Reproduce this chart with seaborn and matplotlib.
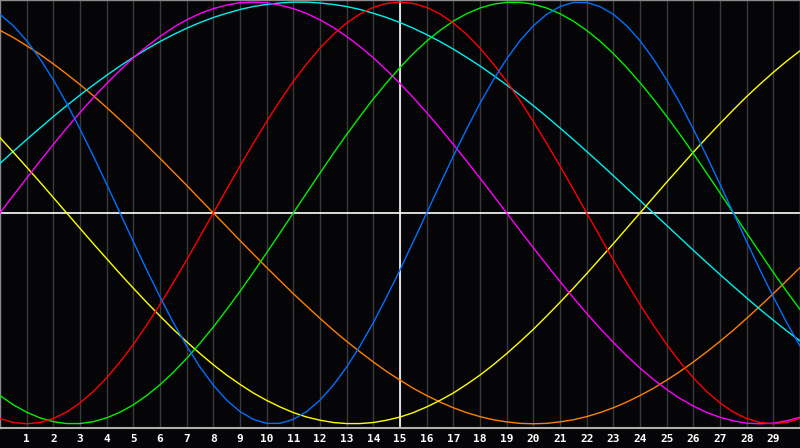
import pandas as pd
import seaborn as sns
import matplotlib
matplotlib.use("Agg")
import matplotlib.pyplot as plt

# half-day positions on the chart (0 = left edge, 30 = right edge)
days = [i / 2 for i in range(61)]
day_labels = [str(d) for d in range(1, 30)]
today = 15

# curve values, every half day
physical = [0.942, 0.888, 0.817, 0.731, 0.631, 0.520, 0.398, 0.270, 0.136, 0.0,
            -0.136, -0.270, -0.398, -0.520, -0.631, -0.731, -0.817, -0.888, -0.942, -0.979,
            -0.998, -0.998, -0.979, -0.942, -0.888, -0.817, -0.731, -0.631, -0.520, -0.398,
            -0.270, -0.136, 0.0, 0.136, 0.270, 0.398, 0.520, 0.631, 0.731, 0.817,
            0.888, 0.942, 0.979, 0.998, 0.998, 0.979, 0.942, 0.888, 0.817, 0.731,
            0.631, 0.520, 0.398, 0.270, 0.136, 0.0, -0.136, -0.270, -0.398, -0.520, -0.631]
emotional = [-0.975, -0.994, -1.0, -0.994, -0.975, -0.944, -0.901, -0.847, -0.782, -0.707,
             -0.624, -0.532, -0.434, -0.330, -0.223, -0.112, 0.0, 0.112, 0.223, 0.330,
             0.434, 0.532, 0.624, 0.707, 0.782, 0.847, 0.901, 0.944, 0.975, 0.994,
             1.0, 0.994, 0.975, 0.944, 0.901, 0.847, 0.782, 0.707, 0.624, 0.532,
             0.434, 0.330, 0.223, 0.112, 0.0, -0.112, -0.223, -0.330, -0.434, -0.532,
             -0.624, -0.707, -0.782, -0.847, -0.901, -0.944, -0.975, -0.994, -1.0, -0.994, -0.975]
intellectual = [-0.866, -0.910, -0.945, -0.972, -0.990, -0.999, -0.999, -0.990, -0.972, -0.945,
                -0.910, -0.866, -0.815, -0.756, -0.690, -0.618, -0.541, -0.458, -0.372, -0.282,
                -0.189, -0.095, 0.0, 0.095, 0.189, 0.282, 0.372, 0.458, 0.541, 0.618,
                0.690, 0.756, 0.815, 0.866, 0.910, 0.945, 0.972, 0.990, 0.999, 0.999,
                0.990, 0.972, 0.945, 0.910, 0.866, 0.815, 0.756, 0.690, 0.618, 0.541,
                0.458, 0.372, 0.282, 0.189, 0.095, 0.0, -0.095, -0.189, -0.282, -0.372, -0.458]
intuitive = [0.0, 0.083, 0.165, 0.246, 0.325, 0.402, 0.476, 0.547, 0.614, 0.677,
             0.736, 0.789, 0.837, 0.880, 0.916, 0.946, 0.969, 0.986, 0.997, 1.0,
             0.997, 0.986, 0.969, 0.946, 0.916, 0.880, 0.837, 0.789, 0.736, 0.677,
             0.614, 0.547, 0.476, 0.402, 0.325, 0.246, 0.165, 0.083, 0.0, -0.083,
             -0.165, -0.246, -0.325, -0.402, -0.476, -0.547, -0.614, -0.677, -0.736, -0.789,
             -0.837, -0.880, -0.916, -0.946, -0.969, -0.986, -0.997, -1.0, -0.997, -0.986, -0.969]
aesthetic = [0.357, 0.288, 0.217, 0.146, 0.073, 0.0, -0.073, -0.146, -0.217, -0.288,
             -0.357, -0.424, -0.489, -0.552, -0.611, -0.667, -0.720, -0.769, -0.813, -0.854,
             -0.889, -0.920, -0.947, -0.968, -0.983, -0.994, -0.999, -0.999, -0.994, -0.983,
             -0.968, -0.947, -0.920, -0.889, -0.854, -0.813, -0.769, -0.720, -0.667, -0.611,
             -0.552, -0.489, -0.424, -0.357, -0.288, -0.217, -0.146, -0.073, 0.0, 0.073,
             0.146, 0.217, 0.288, 0.357, 0.424, 0.489, 0.552, 0.611, 0.667, 0.720, 0.769]
awareness = [0.866, 0.832, 0.793, 0.752, 0.707, 0.659, 0.609, 0.556, 0.5, 0.442,
             0.383, 0.321, 0.259, 0.195, 0.131, 0.065, 0.0, -0.065, -0.131, -0.195,
             -0.259, -0.321, -0.383, -0.442, -0.5, -0.556, -0.609, -0.659, -0.707, -0.752,
             -0.793, -0.832, -0.866, -0.897, -0.924, -0.947, -0.966, -0.981, -0.991, -0.998,
             -1.0, -0.998, -0.991, -0.981, -0.966, -0.947, -0.924, -0.897, -0.866, -0.832,
             -0.793, -0.752, -0.707, -0.659, -0.609, -0.556, -0.5, -0.442, -0.383, -0.321, -0.259]
spiritual = [0.235, 0.292, 0.348, 0.403, 0.457, 0.509, 0.559, 0.607, 0.653, 0.697,
             0.738, 0.777, 0.813, 0.846, 0.876, 0.903, 0.927, 0.947, 0.965, 0.979,
             0.989, 0.996, 1.0, 1.0, 0.996, 0.989, 0.979, 0.965, 0.947, 0.927,
             0.903, 0.876, 0.846, 0.813, 0.777, 0.738, 0.697, 0.653, 0.607, 0.559,
             0.509, 0.457, 0.403, 0.348, 0.292, 0.235, 0.177, 0.118, 0.059, 0.0,
             -0.059, -0.118, -0.177, -0.235, -0.292, -0.348, -0.403, -0.457, -0.509, -0.559, -0.607]

colors = {
    "awareness": "#ff7f00",
    "spiritual": "#00f0f0",
    "aesthetic": "#ffff00",
    "intuitive": "#ff00ff",
    "intellectual": "#00f000",
    "emotional": "#ff0000",
    "physical": "#0070ff",
}

series = {
    "awareness": awareness,
    "spiritual": spiritual,
    "aesthetic": aesthetic,
    "intuitive": intuitive,
    "intellectual": intellectual,
    "emotional": emotional,
    "physical": physical,
}

# long format table for seaborn
frames = []
for name, vals in series.items():
    frames.append(pd.DataFrame({"day": days, "value": vals, "cycle": name}))
df = pd.concat(frames, ignore_index=True)

sns.set_style("dark")
bg = "#050508"
fig = plt.figure(figsize=(8, 4.48), dpi=100, facecolor=bg)
ax = fig.add_axes([0, 20 / 448, 1, 428 / 448])
ax.set_facecolor(bg)

# day grid
for d in range(1, 30):
    ax.axvline(d, color="#3a3a3a", lw=1, zorder=1)

sns.lineplot(data=df, x="day", y="value", hue="cycle", palette=colors,
             hue_order=list(series.keys()), legend=False, linewidth=1,
             estimator=None, ax=ax, zorder=3)

ax.axhline(0, color="white", lw=1.2, zorder=2)
ax.axvline(today, color="white", lw=1.2, zorder=2)

ax.set_xlim(0, 30)
ax.set_ylim(-1.02, 1.01)
ax.set_xticks(range(1, 30))
ax.set_xticklabels(day_labels, color="white", fontsize=8, fontweight="bold",
                   family="DejaVu Sans Mono")
ax.set_yticks([])
ax.tick_params(axis="x", length=0, pad=4)
ax.set_xlabel("")
ax.set_ylabel("")
ax.grid(False)
for side in ["top", "left", "right"]:
    ax.spines[side].set_color("#8a8a8a")
    ax.spines[side].set_linewidth(1)
ax.spines["bottom"].set_color("#b0b0b0")
ax.spines["bottom"].set_linewidth(1.5)

fig.savefig("out.png", dpi=100, facecolor=bg)
